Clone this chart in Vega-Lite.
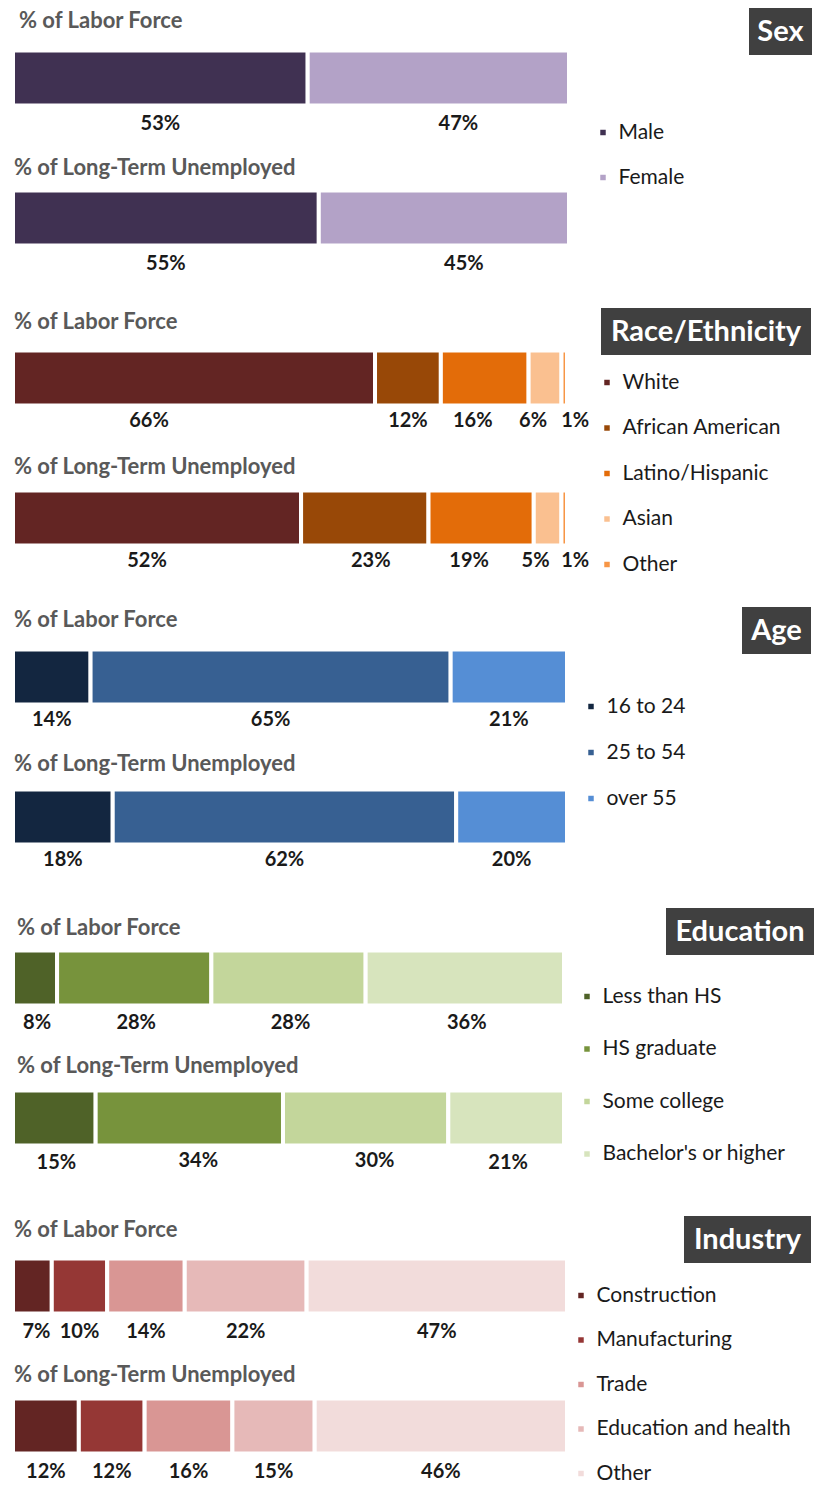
{
  "$schema": "https://vega.github.io/schema/vega-lite/v6.json",
  "padding": {"left": 11, "top": 8, "right": 4, "bottom": 8},
  "config": {"view": {"stroke": null}, "font": "Lato"},
  "datasets": {
    "d": [
      {"section": "Sex", "row": "% of Labor Force", "cat": "Male", "value": 53},
      {"section": "Sex", "row": "% of Labor Force", "cat": "Female", "value": 47},
      {"section": "Sex", "row": "% of Long-Term Unemployed", "cat": "Male", "value": 55},
      {"section": "Sex", "row": "% of Long-Term Unemployed", "cat": "Female", "value": 45},
      {"section": "Race", "row": "% of Labor Force", "cat": "White", "value": 66},
      {"section": "Race", "row": "% of Labor Force", "cat": "African American", "value": 12},
      {"section": "Race", "row": "% of Labor Force", "cat": "Latino/Hispanic", "value": 16},
      {"section": "Race", "row": "% of Labor Force", "cat": "Asian", "value": 6},
      {"section": "Race", "row": "% of Labor Force", "cat": "Other", "value": 1},
      {"section": "Race", "row": "% of Long-Term Unemployed", "cat": "White", "value": 52},
      {"section": "Race", "row": "% of Long-Term Unemployed", "cat": "African American", "value": 23},
      {"section": "Race", "row": "% of Long-Term Unemployed", "cat": "Latino/Hispanic", "value": 19},
      {"section": "Race", "row": "% of Long-Term Unemployed", "cat": "Asian", "value": 5},
      {"section": "Race", "row": "% of Long-Term Unemployed", "cat": "Other", "value": 1},
      {"section": "Age", "row": "% of Labor Force", "cat": "16 to 24", "value": 14},
      {"section": "Age", "row": "% of Labor Force", "cat": "25 to 54", "value": 65},
      {"section": "Age", "row": "% of Labor Force", "cat": "over 55", "value": 21},
      {"section": "Age", "row": "% of Long-Term Unemployed", "cat": "16 to 24", "value": 18},
      {"section": "Age", "row": "% of Long-Term Unemployed", "cat": "25 to 54", "value": 62},
      {"section": "Age", "row": "% of Long-Term Unemployed", "cat": "over 55", "value": 20},
      {"section": "Edu", "row": "% of Labor Force", "cat": "Less than HS", "value": 8},
      {"section": "Edu", "row": "% of Labor Force", "cat": "HS graduate", "value": 28},
      {"section": "Edu", "row": "% of Labor Force", "cat": "Some college", "value": 28},
      {"section": "Edu", "row": "% of Labor Force", "cat": "Bachelor's or higher", "value": 36},
      {"section": "Edu", "row": "% of Long-Term Unemployed", "cat": "Less than HS", "value": 15},
      {"section": "Edu", "row": "% of Long-Term Unemployed", "cat": "HS graduate", "value": 34},
      {"section": "Edu", "row": "% of Long-Term Unemployed", "cat": "Some college", "value": 30},
      {"section": "Edu", "row": "% of Long-Term Unemployed", "cat": "Bachelor's or higher", "value": 21},
      {"section": "Ind", "row": "% of Labor Force", "cat": "Construction", "value": 7},
      {"section": "Ind", "row": "% of Labor Force", "cat": "Manufacturing", "value": 10},
      {"section": "Ind", "row": "% of Labor Force", "cat": "Trade", "value": 14},
      {"section": "Ind", "row": "% of Labor Force", "cat": "Education and health", "value": 22},
      {"section": "Ind", "row": "% of Labor Force", "cat": "Other", "value": 47},
      {"section": "Ind", "row": "% of Long-Term Unemployed", "cat": "Construction", "value": 12},
      {"section": "Ind", "row": "% of Long-Term Unemployed", "cat": "Manufacturing", "value": 12},
      {"section": "Ind", "row": "% of Long-Term Unemployed", "cat": "Trade", "value": 16},
      {"section": "Ind", "row": "% of Long-Term Unemployed", "cat": "Education and health", "value": 15},
      {"section": "Ind", "row": "% of Long-Term Unemployed", "cat": "Other", "value": 46}
    ]
  },
  "spacing": 0,
  "resolve": {"scale": {"color": "independent"}, "legend": {"color": "independent"}},
  "vconcat": [
    {
      "hconcat": [
        {
          "width": 556, "height": 300,
          "data": {"name": "d"},
          "transform": [
            {"filter": "datum.section == 'Sex'"},
            {"calculate": "indexof(['Male','Female'], datum.cat)", "as": "ord"},
            {"stack": "value", "groupby": ["row"], "sort": [{"field": "ord", "order": "ascending"}], "offset": "normalize", "as": ["s0", "s1"]},
            {"calculate": "(datum.s0 + datum.s1) / 2", "as": "mid"},
            {"calculate": "datum.value + '%'", "as": "lbl"}
          ],
          "encoding": {
            "y": {"field": "row", "type": "nominal", "sort": ["% of Labor Force", "% of Long-Term Unemployed"], "axis": null, "scale": {"range": [0, 280], "paddingInner": 0, "paddingOuter": 0}}
          },
          "layer": [
            {
              "mark": {"type": "bar", "height": 55, "stroke": "white", "strokeWidth": 4},
              "encoding": {
                "x": {"field": "s0", "type": "quantitative", "axis": null, "scale": {"domain": [0, 1], "nice": false}},
                "x2": {"field": "s1"},
                "color": {"field": "cat", "type": "nominal", "scale": {"domain": ["Male", "Female"], "range": ["#403152", "#B3A2C7"]},
                  "legend": {"orient": "none", "legendX": 579.5, "legendY": 114, "title": null, "symbolType": "square", "symbolSize": 30, "symbolStrokeWidth": 0, "labelFontSize": 21, "labelColor": "#1a1a1a", "labelOffset": 5, "rowPadding": 23, "padding": 0, "labelLimit": 300}}
              }
            },
            {
              "transform": [{"filter": "datum.row == '% of Labor Force'"}, {"aggregate": [{"op": "count", "as": "n"}], "groupby": ["row"]}],
              "mark": {"type": "text", "align": "left", "dx": 6, "dy": -57, "fontSize": 22, "fontWeight": "bold", "color": "#595959"},
              "encoding": {"x": {"datum": 0, "type": "quantitative"}, "text": {"field": "row"}}
            },
            {
              "transform": [{"filter": "datum.row != '% of Labor Force'"}, {"aggregate": [{"op": "count", "as": "n"}], "groupby": ["row"]}],
              "mark": {"type": "text", "align": "left", "dx": 1, "dy": -50, "fontSize": 22, "fontWeight": "bold", "color": "#595959"},
              "encoding": {"x": {"datum": 0, "type": "quantitative"}, "text": {"field": "row"}}
            },
            {
              "transform": [{"filter": "datum.cat == 'Male'"}],
              "mark": {"type": "text", "dy": 46, "fontSize": 20, "fontWeight": "bold", "color": "#1a1a1a"},
              "encoding": {"x": {"field": "mid", "type": "quantitative"}, "text": {"field": "lbl"}}
            },
            {
              "transform": [{"filter": "datum.cat == 'Female'"}],
              "mark": {"type": "text", "dy": 46, "dx": 20, "fontSize": 20, "fontWeight": "bold", "color": "#1a1a1a"},
              "encoding": {"x": {"field": "mid", "type": "quantitative"}, "text": {"field": "lbl"}}
            }
          ]
        },
        {
          "width": 63, "height": 47,
          "view": {"fill": "#404040", "stroke": null},
          "data": {"values": [{"h": "Sex"}]},
          "mark": {"type": "text", "color": "white", "fontSize": 29, "fontWeight": "bold"},
          "encoding": {"text": {"field": "h"}}
        }
      ],
      "spacing": 180,
      "bounds": "flush"
    },
    {
      "hconcat": [
        {
          "width": 554, "height": 299,
          "data": {"name": "d"},
          "transform": [
            {"filter": "datum.section == 'Race'"},
            {"calculate": "indexof(['White','African American','Latino/Hispanic','Asian','Other'], datum.cat)", "as": "ord"},
            {"stack": "value", "groupby": ["row"], "sort": [{"field": "ord", "order": "ascending"}], "offset": "normalize", "as": ["s0", "s1"]},
            {"calculate": "(datum.s0 + datum.s1) / 2", "as": "mid"},
            {"calculate": "datum.value + '%'", "as": "lbl"}
          ],
          "encoding": {
            "y": {"field": "row", "type": "nominal", "sort": ["% of Labor Force", "% of Long-Term Unemployed"], "axis": null, "scale": {"range": [0, 280], "paddingInner": 0, "paddingOuter": 0}}
          },
          "layer": [
            {
              "mark": {"type": "bar", "height": 55, "stroke": "white", "strokeWidth": 4},
              "encoding": {
                "x": {"field": "s0", "type": "quantitative", "axis": null, "scale": {"domain": [0, 1], "nice": false}},
                "x2": {"field": "s1"},
                "color": {"field": "cat", "type": "nominal", "scale": {"domain": ["White", "African American", "Latino/Hispanic", "Asian", "Other"], "range": ["#632523", "#984807", "#E36C09", "#FAC090", "#F79646"]},
                  "legend": {"orient": "none", "legendX": 583.5, "legendY": 64, "title": null, "symbolType": "square", "symbolSize": 30, "symbolStrokeWidth": 0, "labelFontSize": 21, "labelColor": "#1a1a1a", "labelOffset": 5, "rowPadding": 23.5, "padding": 0, "labelLimit": 300}}
              }
            },
            {
              "transform": [{"filter": "datum.row == '% of Labor Force'"}, {"aggregate": [{"op": "count", "as": "n"}], "groupby": ["row"]}],
              "mark": {"type": "text", "align": "left", "dx": 1, "dy": -56, "fontSize": 22, "fontWeight": "bold", "color": "#595959"},
              "encoding": {"x": {"datum": 0, "type": "quantitative"}, "text": {"field": "row"}}
            },
            {
              "transform": [{"filter": "datum.row != '% of Labor Force'"}, {"aggregate": [{"op": "count", "as": "n"}], "groupby": ["row"]}],
              "mark": {"type": "text", "align": "left", "dx": 1, "dy": -51, "fontSize": 22, "fontWeight": "bold", "color": "#595959"},
              "encoding": {"x": {"datum": 0, "type": "quantitative"}, "text": {"field": "row"}}
            },
            {
              "transform": [{"filter": "datum.cat == 'African American' && datum.row == '% of Labor Force'"}],
              "mark": {"type": "text", "dy": 43, "fontSize": 20, "fontWeight": "bold", "color": "#1a1a1a"},
              "encoding": {"x": {"field": "mid", "type": "quantitative"}, "text": {"field": "lbl"}}
            },
            {
              "transform": [{"filter": "datum.cat == 'African American' && datum.row != '% of Labor Force'"}],
              "mark": {"type": "text", "dy": 43, "dx": 6, "fontSize": 20, "fontWeight": "bold", "color": "#1a1a1a"},
              "encoding": {"x": {"field": "mid", "type": "quantitative"}, "text": {"field": "lbl"}}
            },
            {
              "transform": [{"filter": "datum.cat == 'White' && datum.row == '% of Labor Force'"}],
              "mark": {"type": "text", "dy": 43, "dx": -45, "fontSize": 20, "fontWeight": "bold", "color": "#1a1a1a"},
              "encoding": {"x": {"field": "mid", "type": "quantitative"}, "text": {"field": "lbl"}}
            },
            {
              "transform": [{"filter": "datum.cat == 'White' && datum.row != '% of Labor Force'"}],
              "mark": {"type": "text", "dy": 43, "dx": -10, "fontSize": 20, "fontWeight": "bold", "color": "#1a1a1a"},
              "encoding": {"x": {"field": "mid", "type": "quantitative"}, "text": {"field": "lbl"}}
            },
            {
              "transform": [{"filter": "datum.cat == 'Latino/Hispanic' || datum.cat == 'Asian'"}],
              "mark": {"type": "text", "dy": 43, "dx": -12, "fontSize": 20, "fontWeight": "bold", "color": "#1a1a1a"},
              "encoding": {"x": {"field": "mid", "type": "quantitative"}, "text": {"field": "lbl"}}
            },
            {
              "transform": [{"filter": "datum.cat == 'Other'"}],
              "mark": {"type": "text", "dy": 43, "dx": 11, "fontSize": 20, "fontWeight": "bold", "color": "#1a1a1a"},
              "encoding": {"x": {"field": "mid", "type": "quantitative"}, "text": {"field": "lbl"}}
            }
          ]
        },
        {
          "width": 210, "height": 47,
          "view": {"fill": "#404040", "stroke": null},
          "data": {"values": [{"h": "Race/Ethnicity"}]},
          "mark": {"type": "text", "color": "white", "fontSize": 29, "fontWeight": "bold"},
          "encoding": {"text": {"field": "h"}}
        }
      ],
      "spacing": 34,
      "bounds": "flush"
    },
    {
      "hconcat": [
        {
          "width": 554, "height": 301,
          "data": {"name": "d"},
          "transform": [
            {"filter": "datum.section == 'Age'"},
            {"calculate": "indexof(['16 to 24','25 to 54','over 55'], datum.cat)", "as": "ord"},
            {"stack": "value", "groupby": ["row"], "sort": [{"field": "ord", "order": "ascending"}], "offset": "normalize", "as": ["s0", "s1"]},
            {"calculate": "(datum.s0 + datum.s1) / 2", "as": "mid"},
            {"calculate": "datum.value + '%'", "as": "lbl"}
          ],
          "encoding": {
            "y": {"field": "row", "type": "nominal", "sort": ["% of Labor Force", "% of Long-Term Unemployed"], "axis": null, "scale": {"range": [0, 280], "paddingInner": 0, "paddingOuter": 0}}
          },
          "layer": [
            {
              "mark": {"type": "bar", "height": 55, "stroke": "white", "strokeWidth": 4},
              "encoding": {
                "x": {"field": "s0", "type": "quantitative", "axis": null, "scale": {"domain": [0, 1], "nice": false}},
                "x2": {"field": "s1"},
                "color": {"field": "cat", "type": "nominal", "scale": {"domain": ["16 to 24", "25 to 54", "over 55"], "range": ["#132640", "#376092", "#558ED5"]},
                  "legend": {"orient": "none", "legendX": 567.5, "legendY": 89, "title": null, "symbolType": "square", "symbolSize": 30, "symbolStrokeWidth": 0, "labelFontSize": 21, "labelColor": "#1a1a1a", "labelOffset": 5, "rowPadding": 24, "padding": 0, "labelLimit": 300}}
              }
            },
            {
              "transform": [{"filter": "datum.row == '% of Labor Force'"}, {"aggregate": [{"op": "count", "as": "n"}], "groupby": ["row"]}],
              "mark": {"type": "text", "align": "left", "dx": 1, "dy": -57, "fontSize": 22, "fontWeight": "bold", "color": "#595959"},
              "encoding": {"x": {"datum": 0, "type": "quantitative"}, "text": {"field": "row"}}
            },
            {
              "transform": [{"filter": "datum.row != '% of Labor Force'"}, {"aggregate": [{"op": "count", "as": "n"}], "groupby": ["row"]}],
              "mark": {"type": "text", "align": "left", "dx": 1, "dy": -53, "fontSize": 22, "fontWeight": "bold", "color": "#595959"},
              "encoding": {"x": {"datum": 0, "type": "quantitative"}, "text": {"field": "row"}}
            },
            {
              "mark": {"type": "text", "dy": 43, "fontSize": 20, "fontWeight": "bold", "color": "#1a1a1a"},
              "encoding": {"x": {"field": "mid", "type": "quantitative"}, "text": {"field": "lbl"}}
            }
          ]
        },
        {
          "width": 69, "height": 47,
          "view": {"fill": "#404040", "stroke": null},
          "data": {"values": [{"h": "Age"}]},
          "mark": {"type": "text", "color": "white", "fontSize": 29, "fontWeight": "bold"},
          "encoding": {"text": {"field": "h"}}
        }
      ],
      "spacing": 175,
      "bounds": "flush"
    },
    {
      "hconcat": [
        {
          "width": 551, "height": 308,
          "data": {"name": "d"},
          "transform": [
            {"filter": "datum.section == 'Edu'"},
            {"calculate": "indexof([\"Less than HS\",\"HS graduate\",\"Some college\",\"Bachelor's or higher\"], datum.cat)", "as": "ord"},
            {"stack": "value", "groupby": ["row"], "sort": [{"field": "ord", "order": "ascending"}], "offset": "normalize", "as": ["s0", "s1"]},
            {"calculate": "(datum.s0 + datum.s1) / 2", "as": "mid"},
            {"calculate": "datum.value + '%'", "as": "lbl"}
          ],
          "encoding": {
            "y": {"field": "row", "type": "nominal", "sort": ["% of Labor Force", "% of Long-Term Unemployed"], "axis": null, "scale": {"range": [0, 280], "paddingInner": 0, "paddingOuter": 0}}
          },
          "layer": [
            {
              "mark": {"type": "bar", "height": 55, "stroke": "white", "strokeWidth": 4},
              "encoding": {
                "x": {"field": "s0", "type": "quantitative", "axis": null, "scale": {"domain": [0, 1], "nice": false}},
                "x2": {"field": "s1"},
                "color": {"field": "cat", "type": "nominal", "scale": {"domain": ["Less than HS", "HS graduate", "Some college", "Bachelor's or higher"], "range": ["#4F6228", "#77933C", "#C3D69B", "#D7E4BD"]},
                  "legend": {"orient": "none", "legendX": 563.5, "legendY": 78, "title": null, "symbolType": "square", "symbolSize": 30, "symbolStrokeWidth": 0, "labelFontSize": 21, "labelColor": "#1a1a1a", "labelOffset": 5, "rowPadding": 30.5, "padding": 0, "labelLimit": 300}}
              }
            },
            {
              "transform": [{"filter": "datum.row == '% of Labor Force'"}, {"aggregate": [{"op": "count", "as": "n"}], "groupby": ["row"]}],
              "mark": {"type": "text", "align": "left", "dx": 4, "dy": -50, "fontSize": 22, "fontWeight": "bold", "color": "#595959"},
              "encoding": {"x": {"datum": 0, "type": "quantitative"}, "text": {"field": "row"}}
            },
            {
              "transform": [{"filter": "datum.row != '% of Labor Force'"}, {"aggregate": [{"op": "count", "as": "n"}], "groupby": ["row"]}],
              "mark": {"type": "text", "align": "left", "dx": 4, "dy": -52, "fontSize": 22, "fontWeight": "bold", "color": "#595959"},
              "encoding": {"x": {"datum": 0, "type": "quantitative"}, "text": {"field": "row"}}
            },
            {
              "transform": [{"filter": "!(datum.row != '% of Labor Force' && (datum.cat == 'HS graduate' || datum.cat == 'Some college'))"}],
              "mark": {"type": "text", "dy": 45, "dx": 2, "fontSize": 20, "fontWeight": "bold", "color": "#1a1a1a"},
              "encoding": {"x": {"field": "mid", "type": "quantitative"}, "text": {"field": "lbl"}}
            },
            {
              "transform": [{"filter": "datum.row != '% of Labor Force' && (datum.cat == 'HS graduate' || datum.cat == 'Some college')"}],
              "mark": {"type": "text", "dy": 43, "dx": 9, "fontSize": 20, "fontWeight": "bold", "color": "#1a1a1a"},
              "encoding": {"x": {"field": "mid", "type": "quantitative"}, "text": {"field": "lbl"}}
            }
          ]
        },
        {
          "width": 148, "height": 47,
          "view": {"fill": "#404040", "stroke": null},
          "data": {"values": [{"h": "Education"}]},
          "mark": {"type": "text", "color": "white", "fontSize": 29, "fontWeight": "bold"},
          "encoding": {"text": {"field": "h"}}
        }
      ],
      "spacing": 102,
      "bounds": "flush"
    },
    {
      "hconcat": [
        {
          "width": 554, "height": 280,
          "data": {"name": "d"},
          "transform": [
            {"filter": "datum.section == 'Ind'"},
            {"calculate": "indexof(['Construction','Manufacturing','Trade','Education and health','Other'], datum.cat)", "as": "ord"},
            {"stack": "value", "groupby": ["row"], "sort": [{"field": "ord", "order": "ascending"}], "offset": "normalize", "as": ["s0", "s1"]},
            {"calculate": "(datum.s0 + datum.s1) / 2", "as": "mid"},
            {"calculate": "datum.value + '%'", "as": "lbl"}
          ],
          "encoding": {
            "y": {"field": "row", "type": "nominal", "sort": ["% of Labor Force", "% of Long-Term Unemployed"], "axis": null, "scale": {"range": [0, 280], "paddingInner": 0, "paddingOuter": 0}}
          },
          "layer": [
            {
              "mark": {"type": "bar", "height": 55, "stroke": "white", "strokeWidth": 4},
              "encoding": {
                "x": {"field": "s0", "type": "quantitative", "axis": null, "scale": {"domain": [0, 1], "nice": false}},
                "x2": {"field": "s1"},
                "color": {"field": "cat", "type": "nominal", "scale": {"domain": ["Construction", "Manufacturing", "Trade", "Education and health", "Other"], "range": ["#632523", "#953735", "#D99694", "#E6B9B8", "#F2DCDB"]},
                  "legend": {"orient": "none", "legendX": 557.5, "legendY": 69, "title": null, "symbolType": "square", "symbolSize": 30, "symbolStrokeWidth": 0, "labelFontSize": 21, "labelColor": "#1a1a1a", "labelOffset": 5, "rowPadding": 22.5, "padding": 0, "labelLimit": 300}}
              }
            },
            {
              "transform": [{"filter": "datum.row == '% of Labor Force'"}, {"aggregate": [{"op": "count", "as": "n"}], "groupby": ["row"]}],
              "mark": {"type": "text", "align": "left", "dx": 1, "dy": -56, "fontSize": 22, "fontWeight": "bold", "color": "#595959"},
              "encoding": {"x": {"datum": 0, "type": "quantitative"}, "text": {"field": "row"}}
            },
            {
              "transform": [{"filter": "datum.row != '% of Labor Force'"}, {"aggregate": [{"op": "count", "as": "n"}], "groupby": ["row"]}],
              "mark": {"type": "text", "align": "left", "dx": 1, "dy": -51, "fontSize": 22, "fontWeight": "bold", "color": "#595959"},
              "encoding": {"x": {"datum": 0, "type": "quantitative"}, "text": {"field": "row"}}
            },
            {
              "transform": [{"filter": "!(datum.cat == 'Construction' && datum.row == '% of Labor Force')"}],
              "mark": {"type": "text", "dy": 46, "fontSize": 20, "fontWeight": "bold", "color": "#1a1a1a"},
              "encoding": {"x": {"field": "mid", "type": "quantitative"}, "text": {"field": "lbl"}}
            },
            {
              "transform": [{"filter": "datum.cat == 'Construction' && datum.row == '% of Labor Force'"}],
              "mark": {"type": "text", "dy": 46, "dx": 4, "fontSize": 20, "fontWeight": "bold", "color": "#1a1a1a"},
              "encoding": {"x": {"field": "mid", "type": "quantitative"}, "text": {"field": "lbl"}}
            }
          ]
        },
        {
          "width": 127, "height": 47,
          "view": {"fill": "#404040", "stroke": null},
          "data": {"values": [{"h": "Industry"}]},
          "mark": {"type": "text", "color": "white", "fontSize": 29, "fontWeight": "bold"},
          "encoding": {"text": {"field": "h"}}
        }
      ],
      "spacing": 117,
      "bounds": "flush"
    }
  ]
}
